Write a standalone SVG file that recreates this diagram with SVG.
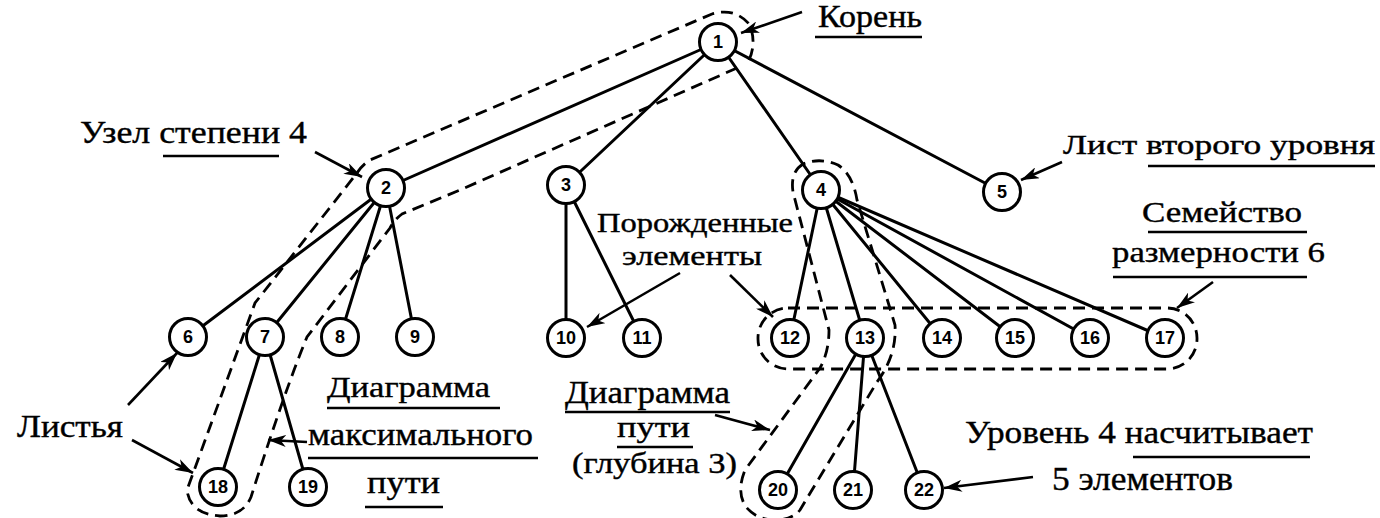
<svg xmlns="http://www.w3.org/2000/svg" width="1380" height="518" viewBox="0 0 1380 518">
<defs>
<marker id="ah" markerUnits="userSpaceOnUse" markerWidth="20" markerHeight="12" refX="18" refY="6" orient="auto">
<path d="M0,0 L18,6 L0,12 L5,6 z" fill="#000"/>
</marker>
</defs>
<style>
.edge{stroke:#000;stroke-width:3;fill:none;stroke-linecap:round}
.dash{stroke:#000;stroke-width:2.8;fill:none;stroke-dasharray:12 7}
.arr{stroke:#000;stroke-width:2.6;fill:none;marker-end:url(#ah)}
.ul{stroke:#000;stroke-width:2.4}
.node circle{fill:#fff;stroke:#000;stroke-width:3}
.node text{font-family:"Liberation Sans",Arial,sans-serif;font-weight:bold;font-size:18px;text-anchor:middle;fill:#000}
.lbl{font-family:"Liberation Serif","Times New Roman",serif;fill:#000;stroke:#000;stroke-width:0.4}
</style>
<rect width="1380" height="518" fill="#fff"/>
<g id="connectors">
<line class="edge" x1="718" y1="42" x2="386" y2="188"/>
<line class="edge" x1="718" y1="42" x2="566" y2="185"/>
<line class="edge" x1="718" y1="42" x2="821" y2="190"/>
<line class="edge" x1="718" y1="42" x2="1002" y2="192"/>
<line class="edge" x1="386" y1="188" x2="188" y2="337"/>
<line class="edge" x1="386" y1="188" x2="265" y2="337"/>
<line class="edge" x1="386" y1="188" x2="340" y2="337"/>
<line class="edge" x1="386" y1="188" x2="415" y2="337"/>
<line class="edge" x1="566" y1="185" x2="566" y2="338"/>
<line class="edge" x1="566" y1="185" x2="642" y2="338"/>
<line class="edge" x1="821" y1="190" x2="790" y2="338"/>
<line class="edge" x1="821" y1="190" x2="865" y2="338"/>
<line class="edge" x1="821" y1="190" x2="942" y2="338"/>
<line class="edge" x1="821" y1="190" x2="1015" y2="338"/>
<line class="edge" x1="821" y1="190" x2="1090" y2="338"/>
<line class="edge" x1="821" y1="190" x2="1165" y2="338"/>
<line class="edge" x1="265" y1="337" x2="218" y2="487"/>
<line class="edge" x1="265" y1="337" x2="308" y2="487"/>
<line class="edge" x1="865" y1="338" x2="778" y2="490"/>
<line class="edge" x1="865" y1="338" x2="853" y2="490"/>
<line class="edge" x1="865" y1="338" x2="924" y2="490"/>
</g>
<g id="outlines">
<path class="dash" d="M737,68 L460,190 L402,214 Q394,220 390,228 L307,337 Q285,390 251,497 Q243,516 220,516 Q190,514 187,490 L255,303 L357,173 Q362,165 370,160 L712,14 Q735,7 750,25 Q757,45 748,62"/>
<path class="dash" d="M803,164 Q790,172 793,192 L829,330 Q829,352 820,368 L745,470 Q736,492 746,507 Q757,520 775,520 Q792,520 800,510 L877,382 Q897,355 895,325 L857,200 Q853,175 838,165 Q820,157 803,164 Z"/>
<rect class="dash" x="758" y="308" width="439" height="61" rx="30" ry="30"/>
</g>
<g id="nodes">
<g id="n1" class="node"><circle cx="718" cy="42" r="18.5"/><text x="718" y="48">1</text></g>
<g id="n2" class="node"><circle cx="386" cy="188" r="18.5"/><text x="386" y="194">2</text></g>
<g id="n3" class="node"><circle cx="566" cy="185" r="18.5"/><text x="566" y="191">3</text></g>
<g id="n4" class="node"><circle cx="821" cy="190" r="18.5"/><text x="821" y="196">4</text></g>
<g id="n5" class="node"><circle cx="1002" cy="192" r="18.5"/><text x="1002" y="198">5</text></g>
<g id="n6" class="node"><circle cx="188" cy="337" r="18.5"/><text x="188" y="343">6</text></g>
<g id="n7" class="node"><circle cx="265" cy="337" r="18.5"/><text x="265" y="343">7</text></g>
<g id="n8" class="node"><circle cx="340" cy="337" r="18.5"/><text x="340" y="343">8</text></g>
<g id="n9" class="node"><circle cx="415" cy="337" r="18.5"/><text x="415" y="343">9</text></g>
<g id="n10" class="node"><circle cx="566" cy="338" r="18.5"/><text x="566" y="344">10</text></g>
<g id="n11" class="node"><circle cx="642" cy="338" r="18.5"/><text x="642" y="344">11</text></g>
<g id="n12" class="node"><circle cx="790" cy="338" r="18.5"/><text x="790" y="344">12</text></g>
<g id="n13" class="node"><circle cx="865" cy="338" r="18.5"/><text x="865" y="344">13</text></g>
<g id="n14" class="node"><circle cx="942" cy="338" r="18.5"/><text x="942" y="344">14</text></g>
<g id="n15" class="node"><circle cx="1015" cy="338" r="18.5"/><text x="1015" y="344">15</text></g>
<g id="n16" class="node"><circle cx="1090" cy="338" r="18.5"/><text x="1090" y="344">16</text></g>
<g id="n17" class="node"><circle cx="1165" cy="338" r="18.5"/><text x="1165" y="344">17</text></g>
<g id="n18" class="node"><circle cx="218" cy="487" r="18.5"/><text x="218" y="493">18</text></g>
<g id="n19" class="node"><circle cx="308" cy="487" r="18.5"/><text x="308" y="493">19</text></g>
<g id="n20" class="node"><circle cx="778" cy="490" r="18.5"/><text x="778" y="496">20</text></g>
<g id="n21" class="node"><circle cx="853" cy="490" r="18.5"/><text x="853" y="496">21</text></g>
<g id="n22" class="node"><circle cx="924" cy="490" r="18.5"/><text x="924" y="496">22</text></g>
</g>
<g id="arrows">
<line class="arr" x1="802" y1="12" x2="741" y2="33"/>
<line class="arr" x1="315" y1="152" x2="362" y2="177"/>
<line class="arr" x1="1062" y1="162" x2="1021" y2="180"/>
<line class="arr" x1="1213" y1="282" x2="1177" y2="308"/>
<line class="arr" x1="680" y1="273" x2="587" y2="327"/>
<line class="arr" x1="730" y1="275" x2="773" y2="317"/>
<line class="arr" x1="128" y1="405" x2="177" y2="353"/>
<line class="arr" x1="132" y1="440" x2="193" y2="473"/>
<line class="arr" x1="307" y1="442" x2="268" y2="440"/>
<line class="arr" x1="715" y1="415" x2="770" y2="430"/>
<line class="arr" x1="1033" y1="477" x2="944" y2="488"/>
</g>
<g id="labels">
<text class="lbl" x="818" y="27" font-size="31" textLength="104" lengthAdjust="spacingAndGlyphs">Корень</text>
<line class="ul" x1="815" y1="37" x2="922" y2="37"/>
<text class="lbl" x="80" y="143" font-size="32" textLength="227" lengthAdjust="spacingAndGlyphs">Узел степени 4</text>
<line class="ul" x1="163" y1="156" x2="279" y2="156"/>
<text class="lbl" x="1063" y="154" font-size="27" textLength="312" lengthAdjust="spacingAndGlyphs">Лист второго уровня</text>
<line class="ul" x1="1148" y1="166" x2="1375" y2="166"/>
<text class="lbl" x="1142" y="222" font-size="30" textLength="160" lengthAdjust="spacingAndGlyphs">Семейство</text>
<line class="ul" x1="1148" y1="232" x2="1307" y2="232"/>
<text class="lbl" x="1112" y="262" font-size="30" textLength="213" lengthAdjust="spacingAndGlyphs">размерности 6</text>
<line class="ul" x1="1113" y1="277" x2="1307" y2="277"/>
<text class="lbl" x="597" y="232" font-size="28" textLength="196" lengthAdjust="spacingAndGlyphs">Порожденные</text>
<text class="lbl" x="622" y="265" font-size="28" textLength="140" lengthAdjust="spacingAndGlyphs">элементы</text>
<text class="lbl" x="327" y="397" font-size="30" textLength="163" lengthAdjust="spacingAndGlyphs">Диаграмма</text>
<line class="ul" x1="327" y1="408" x2="500" y2="408"/>
<text class="lbl" x="308" y="445" font-size="32" textLength="225" lengthAdjust="spacingAndGlyphs">максимального</text>
<line class="ul" x1="308" y1="458" x2="538" y2="458"/>
<text class="lbl" x="367" y="493" font-size="32" textLength="73" lengthAdjust="spacingAndGlyphs">пути</text>
<line class="ul" x1="365" y1="507" x2="443" y2="507"/>
<text class="lbl" x="565" y="403" font-size="32" textLength="165" lengthAdjust="spacingAndGlyphs">Диаграмма</text>
<line class="ul" x1="565" y1="412" x2="730" y2="412"/>
<text class="lbl" x="617" y="437" font-size="30" textLength="73" lengthAdjust="spacingAndGlyphs">пути</text>
<line class="ul" x1="617" y1="447" x2="693" y2="447"/>
<text class="lbl" x="572" y="473" font-size="30" textLength="165" lengthAdjust="spacingAndGlyphs">(глубина 3)</text>
<text class="lbl" x="17" y="437" font-size="32" textLength="106" lengthAdjust="spacingAndGlyphs">Листья</text>
<text class="lbl" x="965" y="443" font-size="32" textLength="348" lengthAdjust="spacingAndGlyphs">Уровень 4 насчитывает</text>
<line class="ul" x1="1133" y1="457" x2="1310" y2="457"/>
<text class="lbl" x="1052" y="490" font-size="34" textLength="181" lengthAdjust="spacingAndGlyphs">5 элементов</text>
</g>
</svg>
